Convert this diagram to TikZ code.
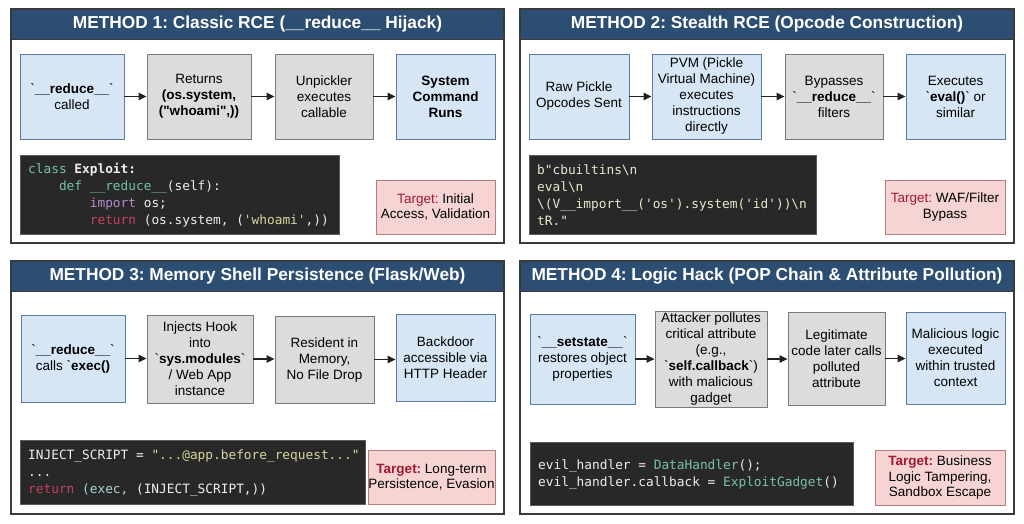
\documentclass[tikz,border=0pt]{standalone}
\usepackage{fontspec}
\usetikzlibrary{arrows.meta}
\newfontfamily\lsans{Liberation Sans}
\newfontfamily\cmono{DejaVu Sans Mono}
\frenchspacing
\definecolor{hdr}{HTML}{2C4E72}
\definecolor{pborder}{HTML}{3A3A3A}
\definecolor{bfill}{HTML}{D6E6F4}
\definecolor{bbord}{HTML}{5B7C9C}
\definecolor{gfill}{HTML}{DCDCDC}
\definecolor{gbord}{HTML}{7A7A7A}
\definecolor{codebg}{HTML}{282828}
\definecolor{codebd}{HTML}{5A5A5A}
\definecolor{cwhite}{HTML}{EEEEEE}
\definecolor{cteal}{HTML}{78C2A8}
\definecolor{cteal2}{HTML}{A9D6D6}
\definecolor{cpurp}{HTML}{B48CD0}
\definecolor{cred}{HTML}{C6415F}
\definecolor{cyel}{HTML}{D9D59C}
\definecolor{ccream}{HTML}{E9E8CF}
\definecolor{tfill}{HTML}{F6D4D4}
\definecolor{tbord}{HTML}{B87C7C}
\definecolor{tred}{HTML}{A3192F}
\definecolor{arrc}{HTML}{222222}
\newcommand\bx[7]{\node[#2, minimum width={(#5-#3)*1pt}, minimum height={(#6-#4)*1pt}] (#1) at ({(#3+#5)/2},{(#4+#6)/2}) {#7};}
\newcommand\tg{\textcolor{tred}{Target:}}
\newcommand\tgb{\textcolor{tred}{\bfseries Target:}}
\tikzset{
  panel/.style={draw=pborder, line width=1.3pt},
  hdrbar/.style={fill=hdr},
  hdrtext/.style={text=white, inner sep=0pt, font=\lsans\bfseries\fontsize{17.3}{20}\selectfont},
  boxbase/.style={line width=0.9pt, align=center, inner sep=0pt, font=\lsans\fontsize{13.5}{16}\selectfont},
  bluebox/.style={boxbase, draw=bbord, fill=bfill},
  greybox/.style={boxbase, draw=gbord, fill=gfill},
  codebox/.style={draw=codebd, fill=codebg, line width=0.9pt, inner sep=0pt},
  codetext/.style={text=cwhite, align=left, inner sep=0pt, anchor=west, font=\cmono\fontsize{12.8}{17.2}\selectfont},
  tgtbox/.style={draw=tbord, fill=tfill, line width=0.9pt, align=center, inner sep=0pt, font=\lsans\fontsize{13.5}{15.3}\selectfont},
  arr/.style={draw=arrc, line width=1.3pt, -{Triangle[length=8pt,width=7.5pt]}}
}
\begin{document}
\begin{tikzpicture}[x=1pt,y=-1pt]
\fill[white] (0,0) rectangle (1024,523);
\useasboundingbox (0,0) rectangle (1024,523);
% panels
\foreach \xa/\ya/\xb/\yb in {11/9/504/243, 520/9/1014/243, 11/261/504/514, 520/261/1014/514}{
  \fill[white] (\xa,\ya) rectangle (\xb,\yb);
  \fill[hdr] (\xa,\ya) rectangle (\xb,\ya+30);
  \draw[pborder, line width=0.8pt] (\xa,\ya+30) -- (\xb,\ya+30);
  \draw[panel] (\xa,\ya) rectangle (\xb,\yb);
}
\node[hdrtext] (h1) at (257.5,24.5) {METHOD 1: Classic RCE (\_\_reduce\_\_ Hijack)};
\node[hdrtext] (h2) at (767,24.5) {METHOD 2: Stealth RCE (Opcode Construction)};
\node[hdrtext] (h3) at (257.5,276.5) {METHOD 3: Memory Shell Persistence (Flask/Web)};
\node[hdrtext] (h4) at (767,276.5) {METHOD 4: Logic Hack (POP Chain \& Attribute Pollution)};

% ---------- Method 1 ----------
\bx{a1}{bluebox}{20}{54}{124}{139}{`\textbf{\_\_reduce\_\_}`\\called}
\bx{a2}{greybox}{147}{54}{251}{139}{Returns\\\textbf{(os.system,}\\\textbf{("whoami",))}}
\bx{a3}{greybox}{275}{54}{373}{139}{Unpickler\\executes\\callable}
\bx{a4}{bluebox}{396}{54}{495}{139}{\textbf{System}\\\textbf{Command}\\\textbf{Runs}}
\draw[arr] (a1.east) -- (a1.east -| a2.west);
\draw[arr] (a2.east) -- (a2.east -| a3.west);
\draw[arr] (a3.east) -- (a3.east -| a4.west);
\bx{c1}{codebox}{20}{155}{339}{234}{}
\node[codetext] (c1t) at (28,195) {\textcolor{cteal}{class} \textbf{Exploit:}\\
\hphantom{xxxx}\textcolor{cteal}{def} \textcolor{cteal}{\_\_reduce\_\_}(self):\\
\hphantom{xxxxxxxx}\textcolor{cpurp}{import} os;\\
\hphantom{xxxxxxxx}\textcolor{cred}{return} (os.system, (\textcolor{cyel}{'whoami'},))};
\bx{t1}{tgtbox}{376}{180}{495}{234}{\tg{} Initial\\Access, Validation}

% ---------- Method 2 ----------
\bx{b1}{bluebox}{529}{54}{629}{139}{Raw Pickle\\Opcodes Sent}
\bx{b2}{bluebox}{652}{54}{761}{139}{PVM (Pickle\\Virtual Machine)\\executes\\instructions\\directly}
\bx{b3}{greybox}{785}{54}{883}{139}{Bypasses\\`\textbf{\_\_reduce\_\_}`\\filters}
\bx{b4}{bluebox}{906}{54}{1005}{139}{Executes\\`\textbf{eval()}` or\\similar}
\draw[arr] (b1.east) -- (b1.east -| b2.west);
\draw[arr] (b2.east) -- (b2.east -| b3.west);
\draw[arr] (b3.east) -- (b3.east -| b4.west);
\bx{c2}{codebox}{529}{155}{816}{234}{}
\node[codetext, text=ccream] (c2t) at (537,195) {b"cbuiltins\textbackslash{}n\\
eval\textbackslash{}n\\
\textbackslash{}(V\_\_import\_\_('os').system('id'))\textbackslash{}n\\
tR."};
\bx{t2}{tgtbox}{885}{180}{1005}{234}{\tg{} WAF/Filter\\Bypass}

% ---------- Method 3 ----------
\bx{d1}{bluebox}{21}{315}{125}{402}{`\textbf{\_\_reduce\_\_}`\\calls `\textbf{exec()}}
\bx{d2}{greybox}{147}{315}{253}{403}{Injects Hook\\into\\`\textbf{sys.modules}`\\/ Web App\\instance}
\bx{d3}{greybox}{275}{316}{374}{403}{Resident in\\Memory,\\No File Drop}
\bx{d4}{bluebox}{396}{314}{495}{401}{Backdoor\\accessible via\\HTTP Header}
\draw[arr] (d1.east) -- (d1.east -| d2.west);
\draw[arr] (d2.east) -- (d2.east -| d3.west);
\draw[arr] (d3.east) -- (d3.east -| d4.west);
\bx{c3}{codebox}{20}{440}{365}{504}{}
\node[codetext] (c3t) at (28,473) {INJECT\_SCRIPT = \textcolor{cyel}{"...@app.before\_request..."}\\
...\\
\textcolor{cred}{return} \textcolor{cteal2}{(exec,} (INJECT\_SCRIPT,))};
\bx{t3}{tgtbox}{368}{450}{495}{504}{\tgb{} Long-term\\Persistence, Evasion}

% ---------- Method 4 ----------
\bx{e1}{bluebox}{530}{314}{635}{404}{`\textbf{\_\_setstate\_\_}`\\restores object\\properties}
\bx{e2}{greybox}{655}{311}{767}{407}{Attacker pollutes\\critical attribute\\(e.g.,\\`\textbf{self.callback}`)\\with malicious\\gadget}
\bx{e3}{greybox}{788}{312}{885}{405}{Legitimate\\code later calls\\polluted\\attribute}
\bx{e4}{bluebox}{906}{312}{1005}{404}{Malicious logic\\executed\\within trusted\\context}
\draw[arr] (e1.east) -- (e1.east -| e2.west);
\draw[arr] (e2.east) -- (e2.east -| e3.west);
\draw[arr] (e3.east) -- (e3.east -| e4.west);
\bx{c4}{codebox}{530}{442}{853}{505}{}
\node[codetext] (c4t) at (538,474.5) {evil\_handler = \textcolor{cteal}{DataHandler}();\\
evil\_handler.callback = \textcolor{cteal}{ExploitGadget}()};
\bx{t4}{tgtbox}{875}{450}{1005}{505}{\tgb{} Business\\Logic Tampering,\\Sandbox Escape}
\end{tikzpicture}
\end{document}
